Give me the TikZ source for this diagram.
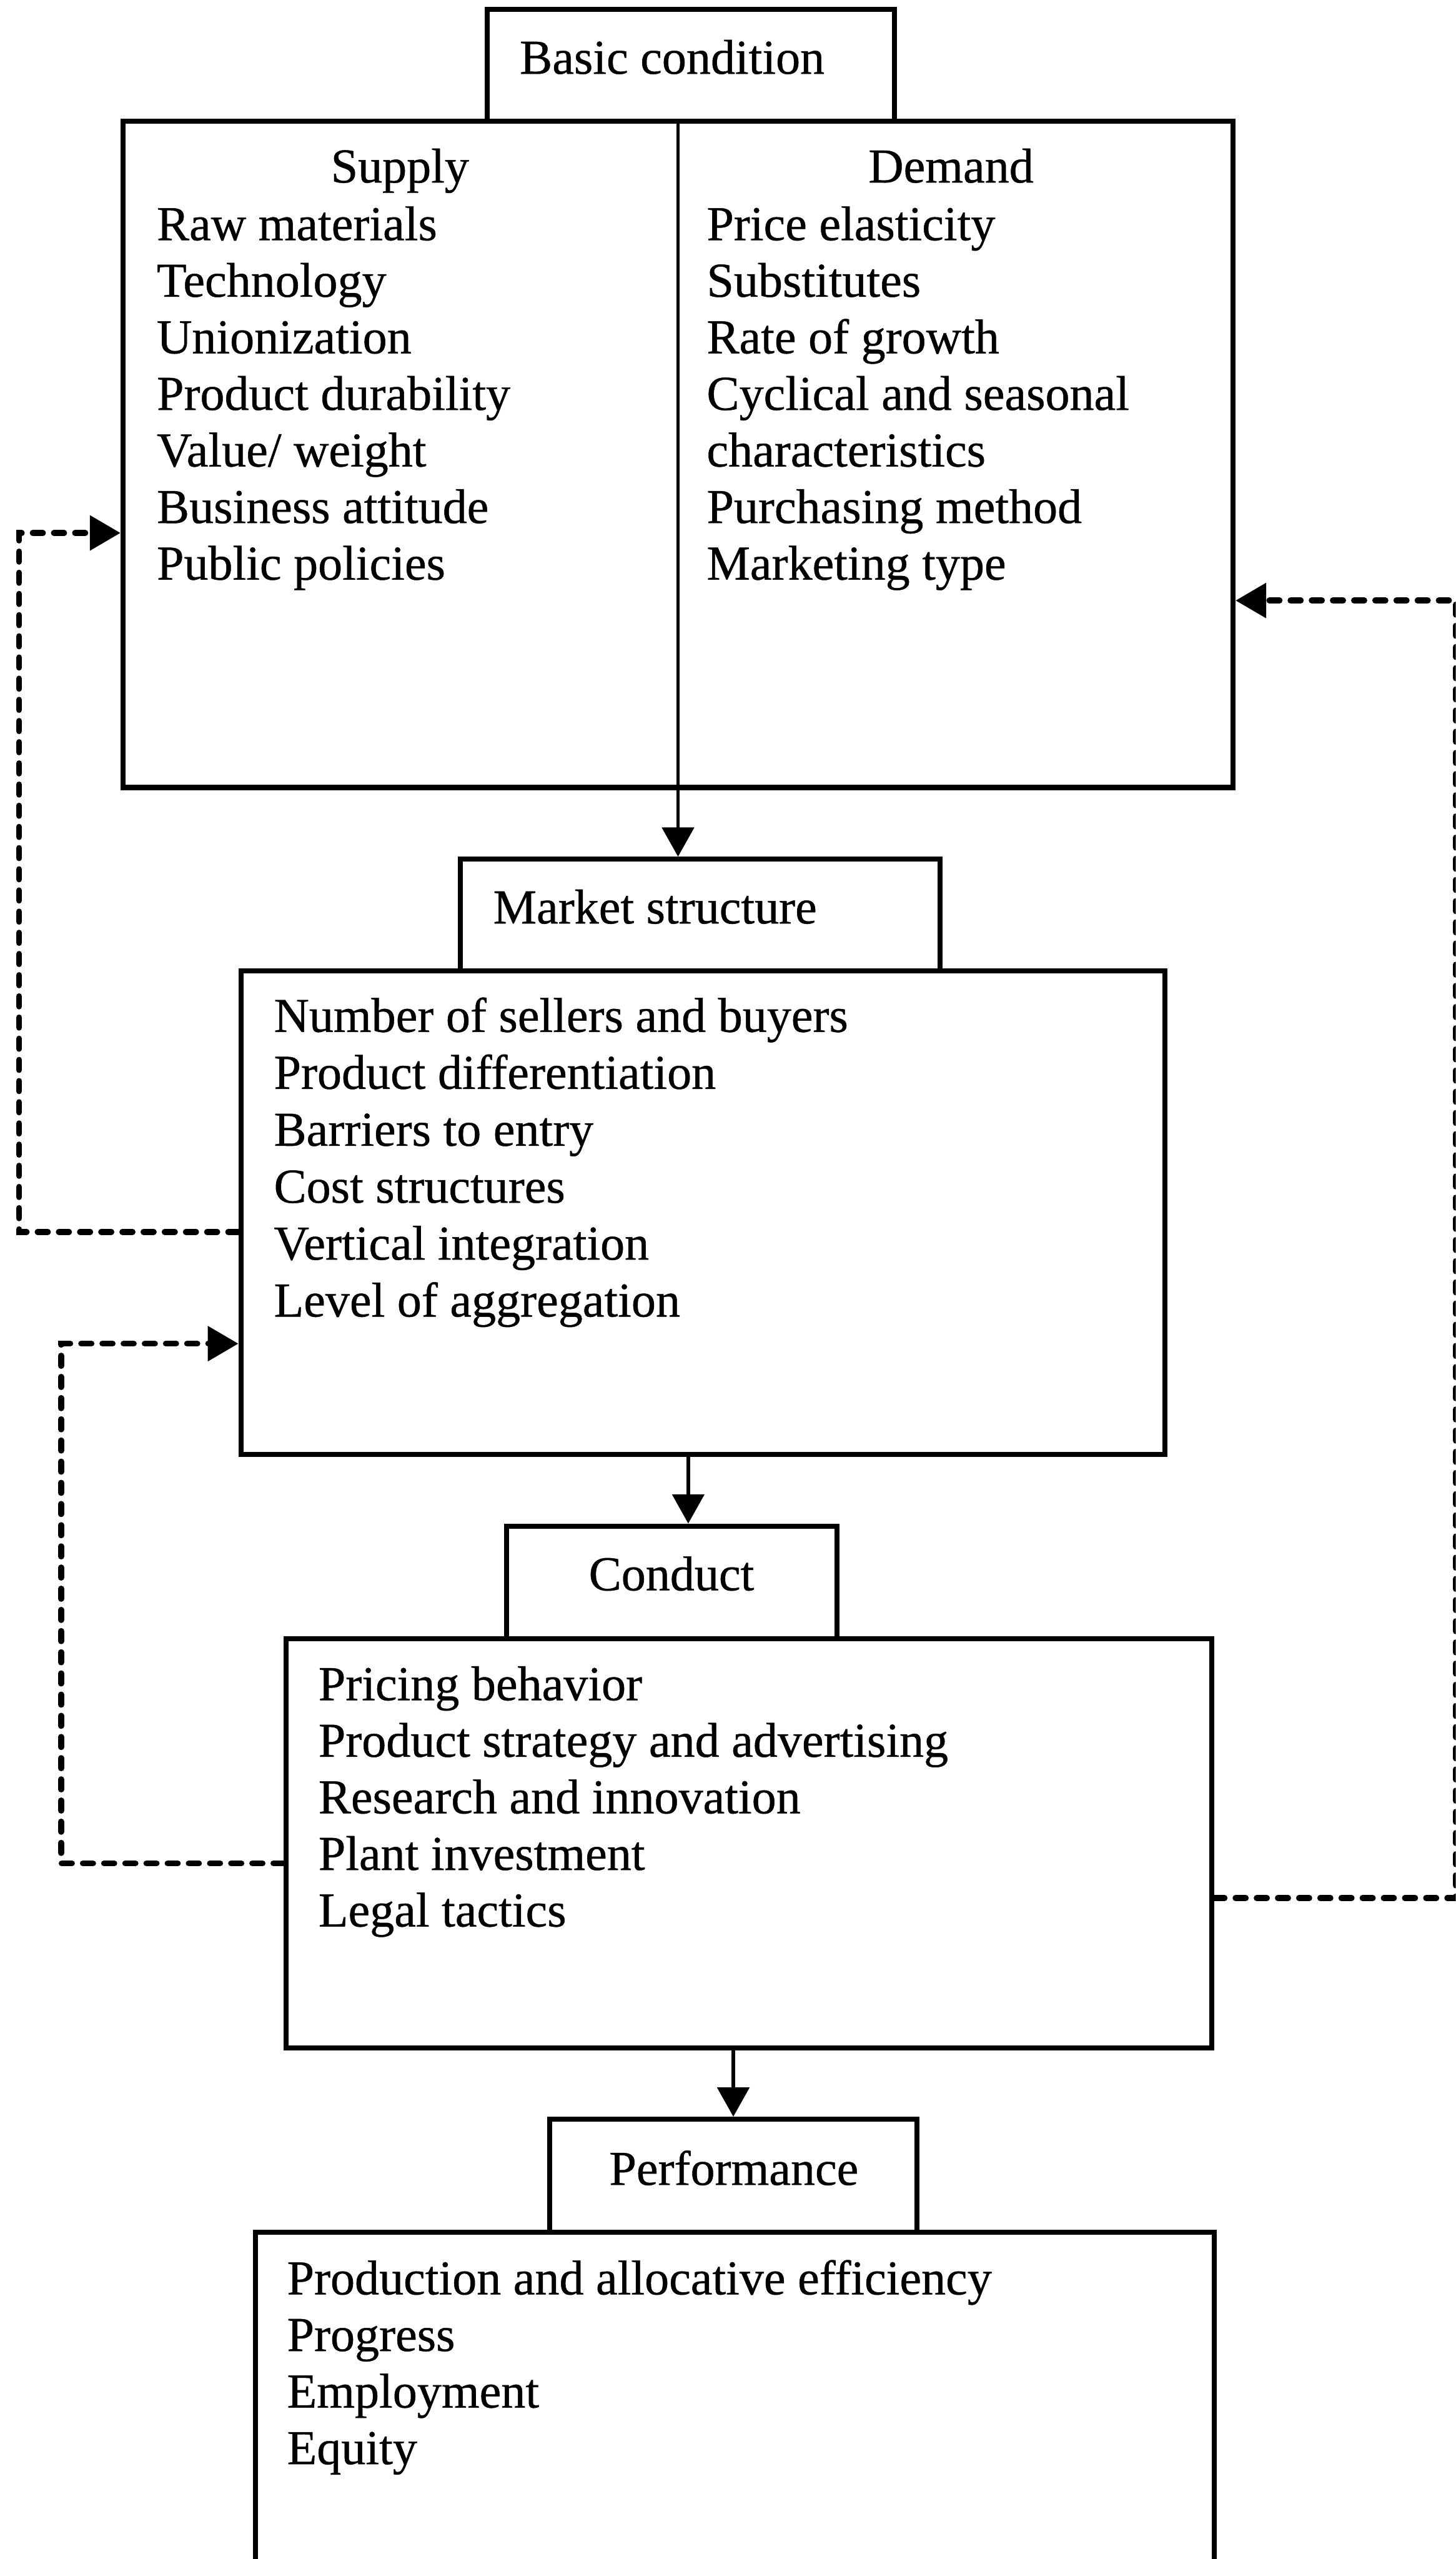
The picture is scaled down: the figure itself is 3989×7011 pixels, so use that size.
\documentclass[tikz,border=0pt]{standalone}
\usepackage{fontspec}
\setmainfont{Liberation Serif}[FakeBold=0.6]
\usetikzlibrary{arrows.meta}
\begin{document}
\begin{tikzpicture}[x=0.01cm,y=-0.01cm,
  box/.style={draw,line width=3.9pt,rectangle,inner sep=0pt},
  txt/.style={inner sep=0pt,anchor=base west,font=\fontsize{38}{44}\selectfont\addfontfeature{FakeBold=0.6}},
  ctxt/.style={inner sep=0pt,anchor=base,font=\fontsize{38}{44}\selectfont\addfontfeature{FakeBold=0.6}},
  arr/.style={line width=2.8pt,-{Triangle[length=0.8cm,width=0.87cm]}},
  dashline/.style={line width=4.6pt,line cap=round,dash pattern=on 8pt off 8.5pt,-{Triangle[length=0.84cm,width=0.93cm]}}]
\useasboundingbox (0,0) rectangle (3989,7011);
\clip (0,0) rectangle (3989,7011);

% boxes
\node[box,minimum width=11.14cm,minimum height=3.06cm] (basic) at (1893,179) {};
\node[box,minimum width=30.40cm,minimum height=18.25cm] (big) at (1858,1244.5) {};
\node[box,minimum width=13.14cm,minimum height=3.06cm] (msl) at (1919,2507) {};
\node[box,minimum width=25.31cm,minimum height=13.24cm] (msbox) at (1926.5,3322) {};
\node[box,minimum width=9.06cm,minimum height=3.09cm] (cl) at (1841,4335.5) {};
\node[box,minimum width=25.35cm,minimum height=11.21cm] (cbox) at (2052.5,5050.5) {};
\node[box,minimum width=10.07cm,minimum height=3.10cm] (pl) at (2009.5,5961) {};
\node[box,minimum width=26.27cm,minimum height=9.84cm] (pbox) at (2013.5,6608) {};

% headings
\node[ctxt] (tbasic) at (1842,202) {Basic condition};
\node[ctxt] (tsupply) at (1096,500) {Supply};
\node[ctxt] (tdemand) at (2606,500) {Demand};
\node[ctxt] (tms) at (1795,2530) {Market structure};
\node[ctxt] (tcond) at (1840,4357) {Conduct};
\node[ctxt] (tperf) at (2011,5986) {Performance};

% lists
\foreach \t [count=\i] in {Raw materials,Technology,Unionization,Product durability,Value/ weight,Business attitude,Public policies}
  \node[txt] (sup\i) at (429,{503+155*\i}) {\t};
\foreach \t [count=\i] in {Price elasticity,Substitutes,Rate of growth,Cyclical and seasonal,characteristics,Purchasing method,Marketing type}
  \node[txt] (dem\i) at (1936,{503+155*\i}) {\t};
\foreach \t [count=\i] in {Number of sellers and buyers,Product differentiation,Barriers to entry,Cost structures,Vertical integration,Level of aggregation}
  \node[txt] (ms\i) at (750,{2671+156*\i}) {\t};
\foreach \t [count=\i] in {Pricing behavior,Product strategy and advertising,Research and innovation,Plant investment,Legal tactics}
  \node[txt] (co\i) at (872,{4503+155*\i}) {\t};
\foreach \t [count=\i] in {Production and allocative efficiency,Progress,Employment,Equity}
  \node[txt] (pe\i) at (786,{6131+155*\i}) {\t};

% solid arrows
\draw[arr] (big.north) -- (big.north |- msl.north);
\coordinate (a1) at ([xshift=-0.405cm]msbox.south);
\draw[arr] (a1) -- (a1 |- cl.north);
\draw[arr] (pl.north |- cbox.south) -- (pl.north);

% dashed feedback
\draw[dashline] ([yshift=-0.53cm]msbox.west) -- ++(-601,0) |- ([yshift=-2.155cm]big.west);
\draw[dashline] ([yshift=-0.545cm]cbox.west) -- ++(-610,0) |- ([yshift=-3.59cm]msbox.west);
\draw[dashline] ([yshift=-1.495cm]cbox.east) -- ++(662,0) |- ([yshift=-4.005cm]big.east);
\end{tikzpicture}
\end{document}
